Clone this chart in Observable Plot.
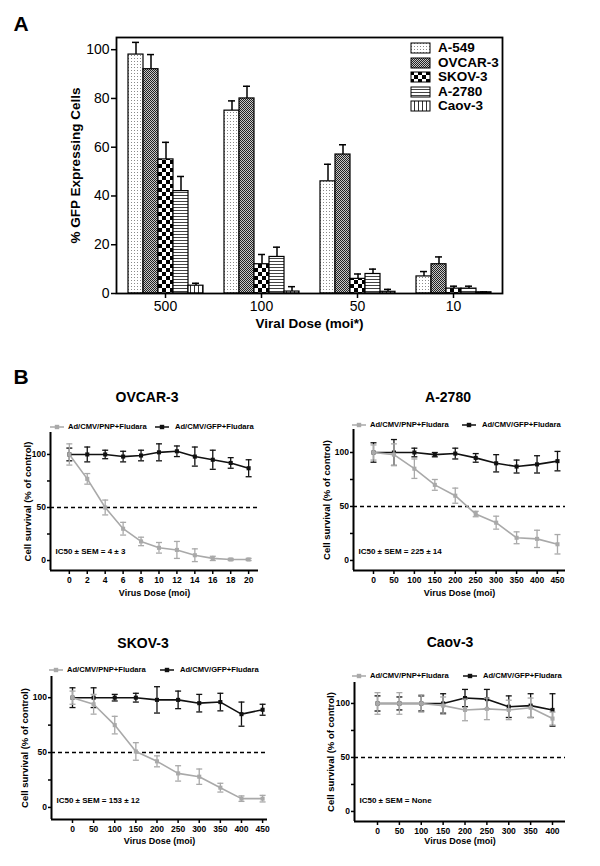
<!DOCTYPE html>
<html><head><meta charset="utf-8">
<script src="https://cdn.jsdelivr.net/npm/d3@7"></script>
<script src="https://cdn.jsdelivr.net/npm/@observablehq/plot@0.6"></script>
<style>
body{margin:0;background:#fff;}
#fig{position:relative;width:600px;height:866px;overflow:hidden;font-family:"Liberation Sans",Arial,sans-serif;color:#000;}
.abs{position:absolute;}
.abs svg{display:block;}
.ctr{position:absolute;transform:translate(-50%,-50%);white-space:nowrap;font-weight:bold;line-height:1;}
.lft{position:absolute;transform:translate(0,-50%);white-space:nowrap;font-weight:bold;line-height:1;}
</style></head>
<body>
<svg width="0" height="0" style="position:absolute">
<defs>
<pattern id="pA549" width="3" height="3" patternUnits="userSpaceOnUse"><rect width="3" height="3" fill="#fff"/><rect x="1" y="1" width="1" height="1" fill="#8a8a8a"/></pattern>
<pattern id="pOVCAR" width="2" height="2" patternUnits="userSpaceOnUse"><rect width="2" height="2" fill="#c8c8c8"/><rect width="1" height="1" fill="#222"/><rect x="1" y="1" width="1" height="1" fill="#222"/></pattern>
<pattern id="pSKOV" width="8" height="8" patternUnits="userSpaceOnUse"><rect width="8" height="8" fill="#fff"/><rect width="4" height="4" fill="#000"/><rect x="4" y="4" width="4" height="4" fill="#000"/></pattern>
<pattern id="pA2780" width="4" height="3" patternUnits="userSpaceOnUse"><rect width="4" height="3" fill="#fff"/><rect width="4" height="1" fill="#444"/></pattern>
<pattern id="pCaov" width="4" height="4" patternUnits="userSpaceOnUse"><rect width="4" height="4" fill="#fff"/><rect width="1" height="4" fill="#333"/></pattern>
</defs></svg>
<div id="fig"></div>
<script>
// ---------- Panel A data ----------
const doses = ["500", "100", "50", "10"];
const cellLines = ["A-549", "OVCAR-3", "SKOV-3", "A-2780", "Caov-3"];
const gfpA549 = [98, 75, 46, 7];
const gfpOVCAR3 = [92, 80, 57, 12];
const gfpSKOV3 = [55, 12, 6, 2];
const gfpA2780 = [42, 15, 8, 2];
const gfpCaov3 = [3.2, 0.8, 0.7, 0.5];
const errA549 = [5, 4, 7, 2];
const errOVCAR3 = [6, 5, 4, 3];
const errSKOV3 = [7, 4, 2, 1];
const errA2780 = [6, 4, 2, 1];
const errCaov3 = [1, 2, 1, 0.2];
const patternIds = ["pA549", "pOVCAR", "pSKOV", "pA2780", "pCaov"];

// ---------- Panel B data ----------
const ovcarDose = [0, 2, 4, 6, 8, 10, 12, 14, 16, 18, 20];
const ovcarPNP = [100, 77, 50, 30, 18, 12, 10, 5, 2, 1, 1];
const ovcarPNPerr = [10, 5, 7, 6, 4, 5, 8, 6, 2, 1, 1];
const ovcarGFP = [100, 100, 100, 98, 99, 102, 103, 98, 95, 92, 87];
const ovcarGFPerr = [6, 7, 4, 5, 5, 8, 5, 9, 9, 5, 8];

const a2780Dose = [0, 50, 100, 150, 200, 250, 300, 350, 400, 450];
const a2780PNP = [100, 98, 85, 70, 60, 43, 35, 21, 20, 15];
const a2780PNPerr = [7, 10, 9, 5, 7, 2.5, 6, 5.5, 8, 9];
const a2780GFP = [100, 100, 100, 98, 99, 95, 90, 87, 89, 92];
const a2780GFPerr = [9, 12, 4, 2, 5, 4, 8, 6, 8, 9];

const skovDose = [0, 50, 100, 150, 200, 250, 300, 350, 400, 450];
const skovPNP = [100, 94, 75, 51, 42, 31, 28, 18, 8, 8];
const skovPNPerr = [6, 9, 8, 8, 5, 7, 7, 4, 2.5, 3];
const skovGFP = [100, 100, 100, 100, 98, 98, 95, 96, 85, 89];
const skovGFPerr = [9, 9, 3, 4, 12, 8, 8, 8, 11, 5];

const caovDose = [0, 50, 100, 150, 200, 250, 300, 350, 400];
const caovPNP = [100, 100, 100, 98, 94, 95, 94, 96, 86];
const caovPNPerr = [10, 10, 8, 8, 10, 10, 9, 9, 6];
const caovGFP = [100, 100, 100, 100, 105, 104, 97, 98, 94];
const caovGFPerr = [7, 6, 7, 9, 8, 9, 10, 11, 15];

const seriesNames = ["Ad/CMV/PNP+Fludara", "Ad/CMV/GFP+Fludara"];
const GREY = "#a9a9a9";
const FONT = "'Liberation Sans', Arial, sans-serif";

const fig = document.getElementById("fig");
function place(el, left, top) {
  const d = document.createElement("div");
  d.className = "abs"; d.style.left = left + "px"; d.style.top = top + "px";
  d.appendChild(el); fig.appendChild(d); return d;
}
function label(text, x, y, size, cls = "ctr") {
  const d = document.createElement("div");
  d.className = cls; d.textContent = text;
  d.style.left = x + "px"; d.style.top = y + "px"; d.style.fontSize = size + "px";
  fig.appendChild(d); return d;
}

// ---------- Panel A ----------
const gfpAll = [gfpA549, gfpOVCAR3, gfpSKOV3, gfpA2780, gfpCaov3];
const errAll = [errA549, errOVCAR3, errSKOV3, errA2780, errCaov3];
const barData = [];
cellLines.forEach((line, j) => doses.forEach((dose, i) => {
  barData.push({dose, line, value: gfpAll[j][i], err: errAll[j][i], fill: `url(#${patternIds[j]})`});
}));

const dimA = {width: 600, height: 340, marginLeft: 116, marginRight: 98, marginTop: 37, marginBottom: 47};
const bandA = {paddingInner: 0.18, paddingOuter: 0.08};
const yDomainA = [0, 105];

const baseA = Plot.plot({
  ...dimA,
  style: {fontFamily: FONT, background: "transparent"},
  x: {domain: doses, ...bandA, axis: null},
  y: {domain: yDomainA, axis: null},
  marks: [
    Plot.axisY({ticks: [0, 20, 40, 60, 80, 100], tickSize: 5, tickPadding: 2, fontSize: 14, label: null, strokeWidth: 1.5}),
    Plot.axisX({tickSize: 5, tickPadding: 3, fontSize: 14, label: null, strokeWidth: 1.5}),
    Plot.text(["Viral Dose (moi*)"], {frameAnchor: "bottom", dy: 34, fontSize: 13.5, fontWeight: "bold"}),
    Plot.text(["% GFP Expressing Cells"], {frameAnchor: "left", dx: -41, rotate: -90, textAnchor: "middle", lineAnchor: "middle", fontSize: 13.5, fontWeight: "bold"})
  ]
});
place(baseA, 0, 0);

const barsA = Plot.plot({
  ...dimA,
  style: {background: "transparent"},
  fx: {domain: doses, ...bandA, axis: null},
  x: {domain: cellLines, padding: 0, axis: null},
  y: {domain: yDomainA, axis: null},
  color: {type: "identity"},
  marks: [
    Plot.ruleX(barData, {fx: "dose", x: "line", y1: "value", y2: d => d.value + d.err, stroke: "#000", strokeWidth: 1.5}),
    Plot.tickY(barData, {fx: "dose", x: "line", y: d => d.value + d.err, stroke: "#000", strokeWidth: 1.5, insetLeft: 4, insetRight: 4}),
    Plot.barY(barData, {fx: "dose", x: "line", y: "value", fill: "fill", stroke: "#000", strokeWidth: 1.2, inset: 0})
  ]
});
place(barsA, 0, 0);

// frame on top of the bars
const frameA = Plot.plot({
  ...dimA,
  style: {background: "transparent"},
  x: {domain: doses, ...bandA, axis: null},
  y: {domain: yDomainA, axis: null},
  marks: [Plot.frame({stroke: "black", strokeWidth: 1.8})]
});
place(frameA, 0, 0);

// legend A
cellLines.forEach((line, j) => {
  const y = 48 + j * 14.6;
  const s = document.createElementNS("http://www.w3.org/2000/svg", "svg");
  s.setAttribute("width", 21); s.setAttribute("height", 12);
  s.innerHTML = `<rect x="1" y="1" width="19" height="10" fill="url(#${patternIds[j]})" stroke="#000" stroke-width="1"/>`;
  place(s, 410, y - 6);
  label(line, 438, y, 13.5, "lft");
});

label("A", 21, 23, 21);
label("B", 21, 376, 21);

// ---------- Panel B ----------
const capSymbol = {draw(ctx, size) { const r = Math.sqrt(size / Math.PI); ctx.moveTo(-r, 0); ctx.lineTo(r, 0); }};

function rows(xs, ys, es) { return xs.map((x, i) => ({x, y: ys[i], e: es[i]})); }

function seriesMarks(data, color) {
  return [
    Plot.ruleX(data, {x: "x", y1: d => d.y - d.e, y2: d => d.y + d.e, stroke: color, strokeWidth: 1.3}),
    Plot.dot(data, {x: "x", y: d => d.y + d.e, symbol: capSymbol, r: 3, fill: "none", stroke: color, strokeWidth: 1.3}),
    Plot.dot(data, {x: "x", y: d => d.y - d.e, symbol: capSymbol, r: 3, fill: "none", stroke: color, strokeWidth: 1.3}),
    Plot.line(data, {x: "x", y: "y", stroke: color, strokeWidth: 1.6}),
    Plot.dot(data, {x: "x", y: "y", symbol: "square", r: 2.3, fill: color, stroke: "none"})
  ];
}

function survival(c) {
  const pnp = rows(c.dose, c.pnp, c.pnpErr);
  const gfp = rows(c.dose, c.gfp, c.gfpErr);
  const svg = Plot.plot({
    width: 300, height: c.h,
    marginLeft: c.ml, marginRight: c.mr, marginTop: c.mt, marginBottom: c.mb,
    style: {fontFamily: FONT, fontWeight: "bold", fontSize: "8.5px", background: "transparent", overflow: "visible"},
    x: {domain: c.xDomain, axis: null},
    y: {domain: c.yDomain, axis: null},
    marks: [
      Plot.ruleY([50], {stroke: "#000", strokeWidth: 1.5, strokeDasharray: "4,3"}),
      ...seriesMarks(gfp, "#111"),
      ...seriesMarks(pnp, GREY),
      Plot.ruleX([c.xDomain[0]], {stroke: "#000", strokeWidth: 2}),
      Plot.ruleY([c.yDomain[0]], {stroke: "#000", strokeWidth: 2}),
      Plot.axisX({ticks: c.dose, tickSize: 4, tickPadding: 2, label: null, strokeWidth: 1.5, fontSize: 8.5, fontWeight: "bold"}),
      Plot.axisY({ticks: [0, 50, 100], tickSize: 3, tickPadding: 1.5, label: null, strokeWidth: 1.5, fontSize: 8.5, fontWeight: "bold"}),
      Plot.axisY({ticks: [25, 75], tickSize: 3, tickFormat: () => "", label: null, strokeWidth: 1.5}),
      Plot.text([c.ic50], {frameAnchor: "bottom-left", textAnchor: "start", dx: 5, dy: c.icDy, fontSize: 8, fontWeight: "bold"}),
      Plot.text(["Virus Dose (moi)"], {frameAnchor: "bottom", dy: c.xlabDy, fontSize: 9, fontWeight: "bold"}),
      Plot.text(["Cell survival (% of control)"], {frameAnchor: "left", dx: c.ylabDx, rotate: -90, textAnchor: "middle", lineAnchor: "middle", fontSize: 9.5, fontWeight: "bold"})
    ]
  });
  place(svg, c.left, c.top);
  label(c.title, c.tx, c.ty, 14);
  const glyph = (color) => {
    const s = document.createElementNS("http://www.w3.org/2000/svg", "svg");
    s.setAttribute("width", 14); s.setAttribute("height", 6);
    s.innerHTML = `<line x1="0" y1="3" x2="14" y2="3" stroke="${color}" stroke-width="1.5"/><rect x="4.8" y="0.8" width="4.4" height="4.4" fill="${color}"/>`;
    return s;
  };
  place(glyph(GREY), c.lx1, c.ly - 3);
  label(seriesNames[0], c.lx1 + 18, c.ly, 7.6, "lft");
  place(glyph("#111"), c.lx2, c.ly - 3);
  label(seriesNames[1], c.lx2 + 20, c.ly, 7.6, "lft");
}

survival({title: "OVCAR-3", dose: ovcarDose, pnp: ovcarPNP, pnpErr: ovcarPNPerr, gfp: ovcarGFP, gfpErr: ovcarGFPerr,
  ic50: "IC50 \u00b1 SEM = 4 \u00b1 3",
  left: 0, top: 420, h: 190, ml: 50, mr: 42, mt: 12, mb: 40,
  xDomain: [-2.1, 21.1], yDomain: [-9.4, 120.7], xlabDy: 25, icDy: -17, ylabDx: -23,
  tx: 147, ty: 397, lx1: 50, lx2: 155, ly: 427});

survival({title: "A-2780", dose: a2780Dose, pnp: a2780PNP, pnpErr: a2780PNPerr, gfp: a2780GFP, gfpErr: a2780GFPerr,
  ic50: "IC50 \u00b1 SEM = 225 \u00b1 14",
  left: 300, top: 417, h: 193, ml: 53, mr: 35, mt: 12, mb: 40,
  xDomain: [-48.9, 469.6], yDomain: [-9.3, 121.3], xlabDy: 25, icDy: -17, ylabDx: -27,
  tx: 448, ty: 397, lx1: 352, lx2: 462, ly: 425});

survival({title: "SKOV-3", dose: skovDose, pnp: skovPNP, pnpErr: skovPNPerr, gfp: skovGFP, gfpErr: skovGFPerr,
  ic50: "IC50 \u00b1 SEM = 153 \u00b1 12",
  left: 0, top: 664, h: 195, ml: 51, mr: 33, mt: 12, mb: 40,
  xDomain: [-49.7, 461.6], yDomain: [-11, 119.3], xlabDy: 24, icDy: -17, ylabDx: -27,
  tx: 143, ty: 643, lx1: 49, lx2: 160, ly: 670});

survival({title: "Caov-3", dose: caovDose, pnp: caovPNP, pnpErr: caovPNPerr, gfp: caovGFP, gfpErr: caovGFPerr,
  ic50: "IC50 \u00b1 SEM = None",
  left: 300, top: 670, h: 196, ml: 54, mr: 35, mt: 12, mb: 45,
  xDomain: [-52.6, 429.7], yDomain: [-9.3, 119.4], xlabDy: 22, icDy: -19, ylabDx: -24,
  tx: 450, ty: 642, lx1: 352, lx2: 463, ly: 676});
</script>
</body></html>
